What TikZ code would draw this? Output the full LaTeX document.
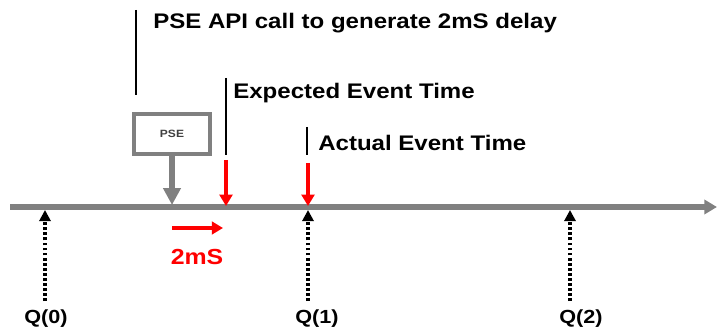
\documentclass[tikz,border=0pt]{standalone}
\usepackage{fontspec}
\setmainfont{Liberation Sans}
\newfontfamily\widefont[FakeStretch=1.14]{Liberation Sans}
\usetikzlibrary{arrows.meta}
\usetikzlibrary{positioning}
\tikzset{
timeline/.style={ % the grey time axis
draw=gray,
line width=3.6pt,
-{Triangle[length=9pt,width=10pt]}},
pointer/.style={ % grey arrow from the PSE box
draw=gray,
line width=3.6pt,
-{Triangle[length=12pt,width=12pt]}},
event/.style={ % red event arrows
draw=red,
line width=2.2pt,
-{Triangle[length=8pt,width=9pt]}},
tick/.style={ % dotted Q arrows
draw=black,
line width=2.2pt,
dash pattern=on 2pt off 1.6pt,
-{Triangle[length=8pt,width=8pt]}},
marker/.style={ % black bars in front of the labels
draw=black,
line width=1.8pt},
label/.style={
anchor=west,
font=\widefont\bfseries\fontsize{15}{17}\selectfont,
inner sep=0pt},
qlabel/.style={
font=\widefont\bfseries\fontsize{13.5}{15}\selectfont,
inner sep=0pt}}

\begin{document}
\begin{tikzpicture}[x=0.025cm, y=-0.025cm]
\useasboundingbox (0,0) rectangle (717,334);

% time axis
\coordinate (t0) at (10,207);
\coordinate (t1) at (717,207);
\draw[timeline] (t0) -- (t1);

% PSE call
\node[draw=gray, line width=2.2pt, minimum width=1.9cm, minimum height=1cm,
  font=\widefont\bfseries\fontsize{7.5}{9}\selectfont, text=black!75] (pse) at (172,134) {PSE};
\coordinate (call) at (172,205);
\draw[pointer] (pse.south) -- (call);
\coordinate (m0a) at (136,10);
\coordinate (m0b) at (136,95);
\draw[marker] (m0a) -- (m0b);
\node[label] (apilbl) at (153,23) {PSE API call to generate 2mS delay};

% expected event
\coordinate (m1a) at (226,78);
\coordinate (m1b) at (226,155);
\draw[marker] (m1a) -- (m1b);
\node[label] (explbl) at (233,93) {Expected Event Time};
\coordinate (e0) at (226,160);
\coordinate (e1) at (226,206);
\draw[event] (e0) -- (e1);

% actual event
\coordinate (m2a) at (307,127);
\coordinate (m2b) at (307,155);
\draw[marker] (m2a) -- (m2b);
\node[label] (actlbl) at (318,143) {Actual Event Time};
\coordinate (a0) at (308,163);
\coordinate (a1) at (308,206);
\draw[event] (a0) -- (a1);

% 2mS shift
\coordinate (d0) at (172,228);
\coordinate (d1) at (223,228);
\draw[event] (d0) -- (d1);
\node[font=\widefont\bfseries\fontsize{15.5}{17}\selectfont, inner sep=0pt, text=red] (delay) at (197,257) {2mS};

% Q points
\node[qlabel] (q0) at (46,319) {Q(0)};
\node[qlabel] (q1) at (317,319) {Q(1)};
\node[qlabel] (q2) at (581,319) {Q(2)};
\coordinate (q0t) at (45,210);
\coordinate (q1t) at (308,210);
\coordinate (q2t) at (570,210);
\draw[tick] (45,301) -- (q0t);
\draw[tick] (308,301) -- (q1t);
\draw[tick] (570,301) -- (q2t);
\end{tikzpicture}
\end{document}
